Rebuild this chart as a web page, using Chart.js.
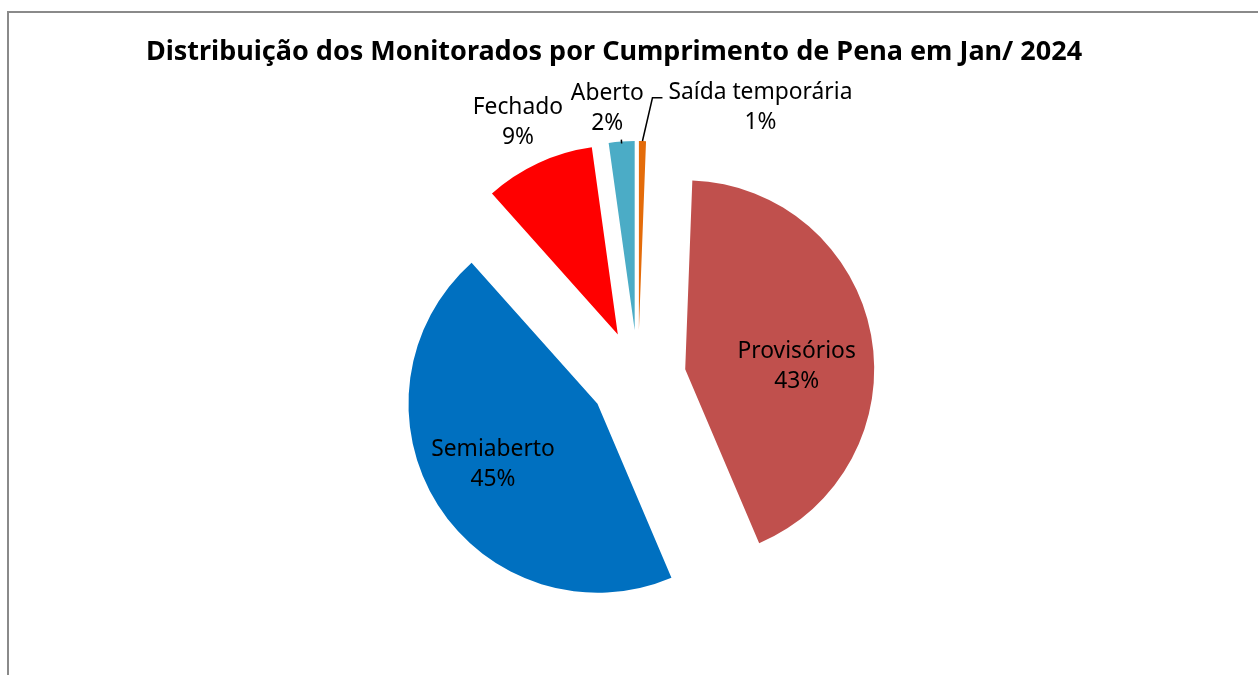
<!DOCTYPE html>
<html>
<head>
<meta charset="utf-8">
<script src="https://cdn.jsdelivr.net/npm/chart.js@4.4.1/dist/chart.umd.min.js"></script>
<style>
  html, body { margin: 0; padding: 0; background: #fff; overflow: hidden; }
  #frame {
    position: absolute; left: 7px; top: 11px; right: -20px; bottom: -20px;
    border-left: 2px solid #8a8a8a; border-top: 2px solid #8a8a8a;
  }
  #wrap { position: absolute; left: 0; top: 0; width: 1258px; height: 675px; }
</style>
</head>
<body>
<div id="frame"></div>
<div id="wrap"><canvas id="pieChart"></canvas></div>
<script>
// Data (slices start at 12 o'clock, clockwise)
const categories = ['Saída temporária', 'Provisórios', 'Semiaberto', 'Fechado', 'Aberto'];
const shares = [0.6, 43.0, 44.8, 9.4, 2.2];
const sliceColors = ['#E46C0A', '#C0504D', '#0070C0', '#FF0000', '#4BACC6'];
const chartTitle = 'Distribuição dos Monitorados por Cumprimento de Pena em Jan/ 2024';

// Label placement: [distance as fraction of radius, angle shift in degrees, leader]
const labelPlace = [
    [1.34, 27.6, 'elbow'],
    [0.59, 8.8, null],
    [0.64, 2.1, null],
    [1.24, -0.4, null],
    [1.18, -3.1, 'tick']
];

const EXPLODE = 48;

// Draw each slice pulled out along its middle angle
const explodePlugin = {
    id: 'explode',
    beforeDatasetDraw(chart, args) {
        const ctx = chart.ctx;
        args.meta.data.forEach(arc => {
            const mid = (arc.startAngle + arc.endAngle) / 2;
            ctx.save();
            ctx.translate(Math.cos(mid) * EXPLODE, Math.sin(mid) * EXPLODE);
            arc.draw(ctx, chart.chartArea);
            ctx.restore();
        });
        return false;
    }
};

// Category name + percentage, title on top
const labelPlugin = {
    id: 'sliceLabels',
    afterDraw(chart) {
        const ctx = chart.ctx;
        const meta = chart.getDatasetMeta(0);
        const total = shares.reduce((a, b) => a + b, 0);

        ctx.save();
        ctx.fillStyle = '#000';
        ctx.textAlign = 'center';
        ctx.textBaseline = 'alphabetic';
        ctx.font = 'bold 27px "Noto Sans"';
        ctx.fillText(chartTitle, 614, 60);

        ctx.font = '22.8px "Noto Sans"';
        ctx.textBaseline = 'middle';
        meta.data.forEach((arc, i) => {
            const mid = (arc.startAngle + arc.endAngle) / 2;
            const ax = arc.x + Math.cos(mid) * EXPLODE;
            const ay = arc.y + Math.sin(mid) * EXPLODE;
            const [dist, shift, leader] = labelPlace[i];
            const a = mid + shift * Math.PI / 180;
            const lx = ax + Math.cos(a) * dist * arc.outerRadius;
            const ly = ay + Math.sin(a) * dist * arc.outerRadius;
            const pct = Math.round(shares[i] / total * 100) + '%';

            ctx.fillText(categories[i], lx, ly - 15);
            ctx.fillText(pct, lx, ly + 15);

            const ex = ax + Math.cos(mid) * arc.outerRadius;
            const ey = ay + Math.sin(mid) * arc.outerRadius;
            ctx.strokeStyle = '#000';
            ctx.lineWidth = 1.5;
            if (leader === 'elbow') {
                const w = ctx.measureText(categories[i]).width;
                const endX = lx - w / 2 - 6;
                const endY = ly - 10;
                ctx.beginPath();
                ctx.moveTo(ex, ey);
                ctx.lineTo(endX - 10, endY);
                ctx.lineTo(endX, endY);
                ctx.stroke();
            } else if (leader === 'tick') {
                ctx.beginPath();
                ctx.moveTo(ex, ey + 2);
                ctx.lineTo(ex - Math.cos(mid) * -4, ey - Math.sin(mid) * -4 + 2);
                ctx.stroke();
            }
        });
        ctx.restore();
    }
};

new Chart(document.getElementById('pieChart'), {
    type: 'pie',
    data: {
        labels: categories,
        datasets: [{
            data: shares,
            backgroundColor: sliceColors,
            borderWidth: 0
        }]
    },
    options: {
        responsive: true,
        maintainAspectRatio: false,
        animation: false,
        radius: 189,
        layout: { padding: { left: 18, right: 0, top: 81, bottom: 0 } },
        plugins: {
            legend: { display: false },
            tooltip: { enabled: false },
            title: { display: false }
        }
    },
    plugins: [explodePlugin, labelPlugin]
});
</script>
</body>
</html>
